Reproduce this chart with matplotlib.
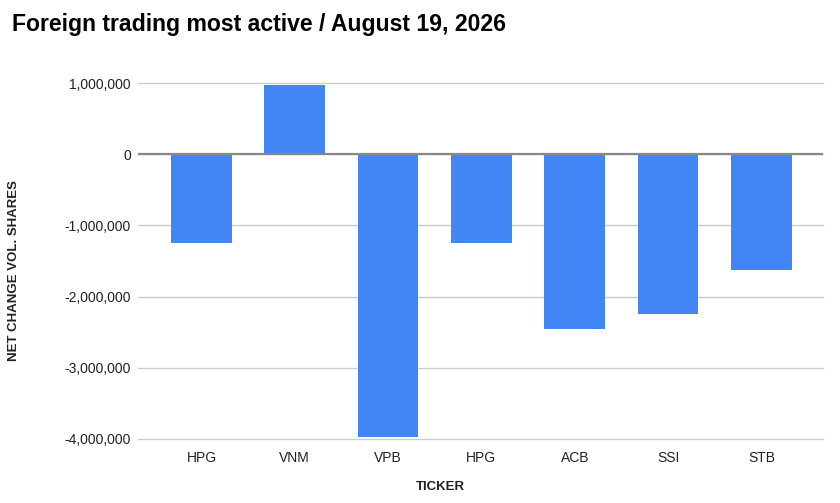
import matplotlib
matplotlib.use("Agg")
import matplotlib.pyplot as plt
from matplotlib.ticker import FuncFormatter, FixedLocator

plt.rcParams['font.family'] = ['Liberation Sans', 'DejaVu Sans']

tickers = ["HPG", "VNM", "VPB", "HPG", "ACB", "SSI", "STB"]
net_change = [-1245000, 976000, -3970000, -1245000, -2450000, -2250000, -1620000]
y_ticks = [-4000000, -3000000, -2000000, -1000000, 0, 1000000]

title = "Foreign trading most active / August 19, 2026"
x_label = "TICKER"
y_label = "NET CHANGE VOL. SHARES"

fig = plt.figure(figsize=(8.4, 5.03), dpi=100)
ax = fig.add_axes([138/840, 1-438.7/503, (823-138)/840, (438.7-83.3)/503])

xs = list(range(len(tickers)))
bars = ax.bar(xs, net_change, width=0.65, color="#4285F4", zorder=3)

ax.set_xlim(-0.68, 6.66)
ax.set_ylim(-4000000, 1000000)
ax.yaxis.set_major_locator(FixedLocator(y_ticks))
ax.yaxis.set_major_formatter(FuncFormatter(lambda v, p: f"{int(v):,}"))
ax.set_xticks(xs)
ax.set_xticklabels(tickers)

ax.grid(axis='y', color="#cccccc", linewidth=1, zorder=0)
for gl in ax.get_ygridlines():
    gl.set_clip_on(False)
ax.axhline(0, color="#888888", linewidth=1.6, zorder=4)
for s in ax.spines.values():
    s.set_visible(False)
ax.tick_params(axis='both', length=0, labelsize=10, labelcolor="#222222")
ax.tick_params(axis='y', pad=5)
ax.tick_params(axis='x', pad=9)

fig.text(12/840, 1-25/503, title, fontsize=16.6, fontweight='bold', ha='left', va='center', color="#000000")
fig.text(440/840, 1-486.7/503, x_label, fontsize=9.5, fontweight='bold', ha='center', va='center', color="#222222")
fig.text(14/840, 1-271/503, y_label, fontsize=9.5, fontweight='bold', ha='center', va='center', rotation=90, color="#222222")

fig.savefig("out.png", dpi=100, facecolor="white")
